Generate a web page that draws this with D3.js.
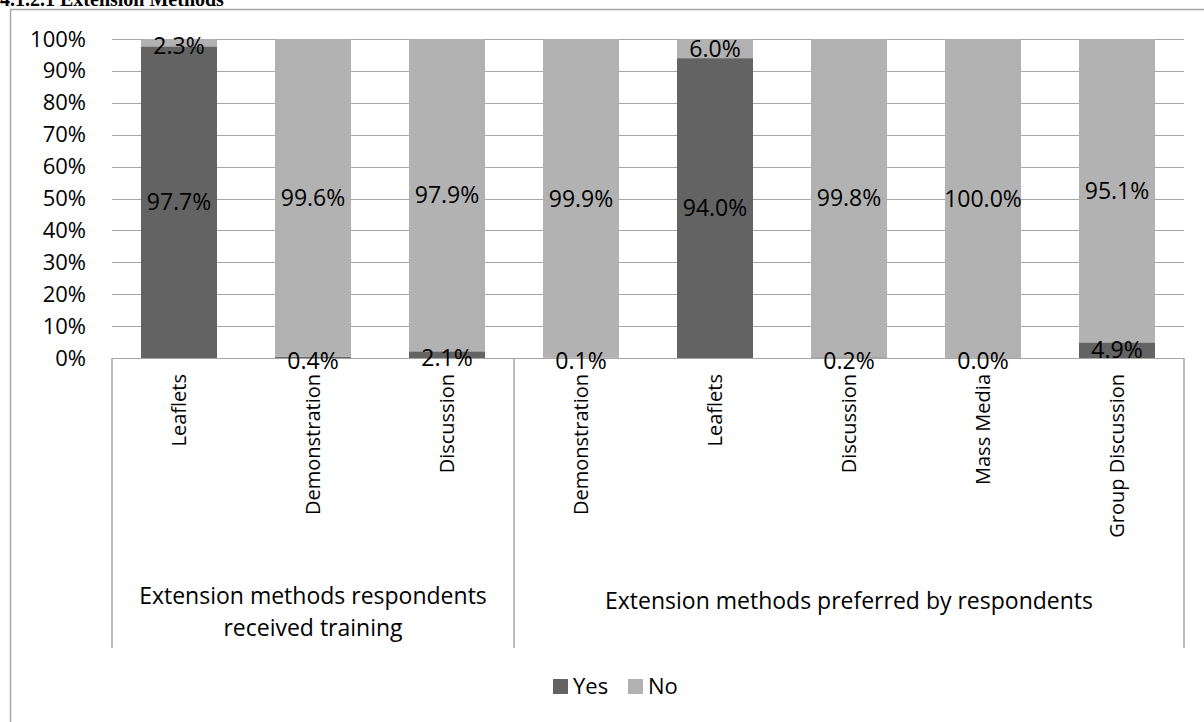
<!DOCTYPE html>
<html>
<head>
<meta charset="utf-8">
<script src="https://cdn.jsdelivr.net/npm/d3@7"></script>
<style>
  body { margin: 0; background: #fff; }
  text { font-family: "Open Sans", sans-serif; fill: #000; }
</style>
</head>
<body>
<div id="chart"></div>
<script>
// chart data
var categories = ["Leaflets", "Demonstration", "Discussion", "Demonstration", "Leaflets", "Discussion", "Mass Media", "Group Discussion"];
var groups = ["Extension methods respondents|received training", "Extension methods preferred by respondents"];
var groupSizes = [3, 5];
var yesValues = [97.7, 0.4, 2.1, 0.1, 94.0, 0.2, 0.0, 4.9];
var noValues = [2.3, 99.6, 97.9, 99.9, 6.0, 99.8, 100.0, 95.1];
var seriesNames = ["Yes", "No"];
var tickValues = [0, 10, 20, 30, 40, 50, 60, 70, 80, 90, 100];

var width = 1204, height = 722;
var plotLeft = 112, plotRight = 1184, plotTop = 39, plotBottom = 358;
var yesColor = "#636363", noColor = "#b2b2b2", gridColor = "#a6a6a6";

var svg = d3.select("#chart").append("svg")
    .attr("width", width)
    .attr("height", height);

// clipped heading above the chart
svg.append("text")
    .attr("x", 0)
    .attr("y", 6)
    .style("font-family", "'Liberation Serif', serif")
    .style("font-weight", "bold")
    .style("font-size", "20px")
    .text("4.1.2.1 Extension Methods");

// outer chart border (runs off the right and bottom)
svg.append("path")
    .attr("d", "M10.5," + (height + 2) + "V9.5H" + (width + 2))
    .attr("fill", "none")
    .attr("stroke", "#a6a6a6")
    .attr("stroke-width", 1.5);

var rows = categories.map(function(c, i) {
    return { idx: i, Yes: yesValues[i], No: noValues[i] };
});

var x = d3.scaleBand()
    .domain(d3.range(categories.length))
    .range([plotLeft, plotRight])
    .padding(0);

var y = d3.scaleLinear()
    .domain([0, 100])
    .range([plotBottom, plotTop]);

// gridlines
svg.append("g").selectAll("line")
    .data(tickValues)
    .enter().append("line")
    .attr("x1", plotLeft)
    .attr("x2", plotRight)
    .attr("y1", function(d) { return Math.round(y(d)) + 0.5; })
    .attr("y2", function(d) { return Math.round(y(d)) + 0.5; })
    .attr("stroke", gridColor)
    .attr("stroke-width", 1.2);

// y axis labels
var yAxis = d3.axisLeft(y)
    .tickValues(tickValues)
    .tickSize(0)
    .tickPadding(0)
    .tickFormat(function(d) { return d + "%"; });

var ya = svg.append("g")
    .attr("transform", "translate(86,0)")
    .call(yAxis);
ya.select(".domain").remove();
ya.selectAll("text")
    .style("font-family", "'Open Sans', sans-serif")
    .style("font-size", "22px")
    .attr("fill", "#000");

// stacked bars
var stack = d3.stack().keys(seriesNames);
var layers = stack(rows);
var colors = { Yes: yesColor, No: noColor };
var barW = x.bandwidth() * 0.567;

var layerG = svg.selectAll(".layer")
    .data(layers)
    .enter().append("g")
    .attr("class", "layer")
    .attr("fill", function(d) { return colors[d.key]; });

layerG.selectAll("rect")
    .data(function(d) { return d; })
    .enter().append("rect")
    .attr("x", function(d) { return x(d.data.idx) + (x.bandwidth() - barW) / 2; })
    .attr("width", barW)
    .attr("y", function(d) { return y(d[1]); })
    .attr("height", function(d) { return y(d[0]) - y(d[1]); });

// category axis box
svg.append("line")
    .attr("x1", plotLeft).attr("x2", plotRight)
    .attr("y1", plotBottom + 0.5).attr("y2", plotBottom + 0.5)
    .attr("stroke", gridColor).attr("stroke-width", 1.2);

var bounds = [0];
groupSizes.forEach(function(n) { bounds.push(bounds[bounds.length - 1] + n); });
function boundX(b) { return b < categories.length ? x(b) : plotRight; }

svg.append("g").selectAll("line")
    .data(bounds)
    .enter().append("line")
    .attr("x1", boundX)
    .attr("x2", boundX)
    .attr("y1", plotBottom)
    .attr("y2", 648)
    .attr("stroke", gridColor)
    .attr("stroke-width", 1.5);

// category labels (rotated)
svg.append("g").selectAll("text")
    .data(categories)
    .enter().append("text")
    .attr("transform", function(d, i) {
        return "translate(" + (x(i) + x.bandwidth() / 2) + ",374) rotate(-90)";
    })
    .attr("dy", "0.36em")
    .attr("text-anchor", "end")
    .style("font-size", "20px")
    .text(function(d) { return d; });

// data labels, drawn above all bars
var labelG = svg.append("g");
layers.forEach(function(layer) {
    labelG.selectAll("text.v" + layer.key)
        .data(layer)
        .enter().append("text")
        .attr("class", "v" + layer.key)
        .attr("x", function(d) { return x(d.data.idx) + x.bandwidth() / 2; })
        .attr("y", function(d) {
            var mid = (y(d[0]) + y(d[1])) / 2;
            // tiny segments: Excel lets the label sit a bit lower
            return (y(d[0]) - y(d[1]) < 10) ? mid + 3 : mid;
        })
        .attr("dy", "0.36em")
        .attr("text-anchor", "middle")
        .style("font-size", "23px")
        .text(function(d) { return (d[1] - d[0]).toFixed(1) + "%"; });
});

// group labels
groups.forEach(function(g, gi) {
    var cx = (boundX(bounds[gi]) + boundX(bounds[gi + 1])) / 2;
    var lines = g.split("|");
    var startY = lines.length > 1 ? 604 : 609;
    var t = svg.append("text")
        .attr("text-anchor", "middle")
        .style("font-size", "23px");
    lines.forEach(function(l, li) {
        t.append("tspan")
            .attr("x", cx)
            .attr("y", startY + li * 32)
            .text(l);
    });
});

// legend
var legend = svg.append("g").attr("transform", "translate(553,679)");
var legX = [0, 75];
seriesNames.forEach(function(s, i) {
    legend.append("rect")
        .attr("x", legX[i])
        .attr("y", 0)
        .attr("width", 15)
        .attr("height", 15)
        .attr("fill", colors[s]);
    legend.append("text")
        .attr("x", legX[i] + 20)
        .attr("y", 15)
        .style("font-size", "22px")
        .text(s);
});
</script>
</body>
</html>
